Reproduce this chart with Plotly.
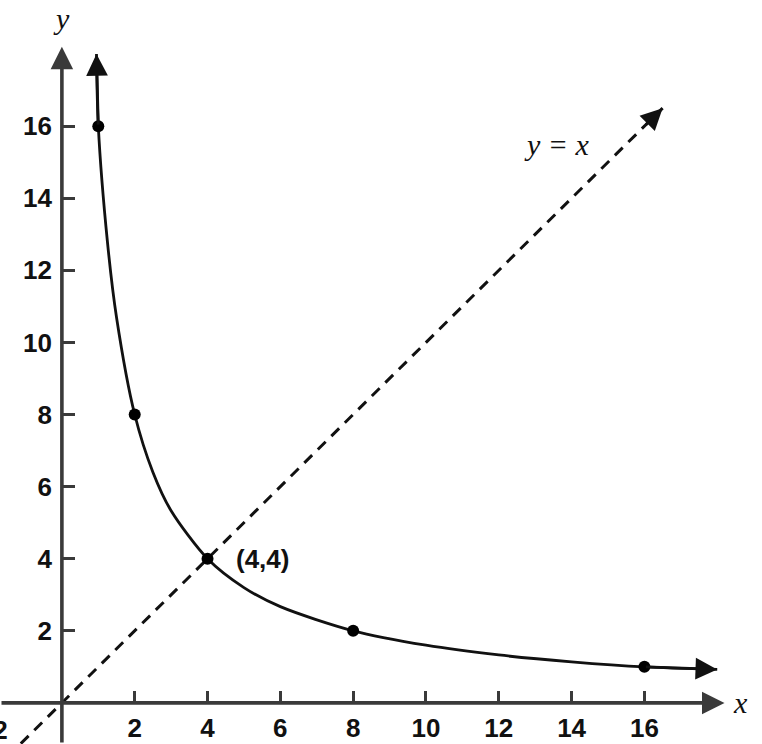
import plotly.graph_objects as go

# ---- data ----
point_x = [1, 2, 4, 8, 16]
point_y = [16, 8, 4, 2, 1]

# samples along the plotted curve y = 16/x
curve_x = [0.95, 1, 1.25, 1.5, 2, 2.5, 3, 4, 5, 6, 8, 10, 12, 14, 16, 18]
curve_y = [18.0, 16, 12.8, 10.7, 8, 6.4, 5.33, 4, 3.2, 2.67, 2, 1.6, 1.33, 1.14, 1.0, 0.93]

diag_x = [-1.5, 16.5]
diag_y = [-1.5, 16.5]

tick_vals = [2, 4, 6, 8, 10, 12, 14, 16]
tick_text = ["2", "4", "6", "8", "10", "12", "14", "16"]
neg_tick = -2

axis_end = 18.2
x_range = [-1.70, 19.23]
y_range = [-1.14, 19.5]

LABEL_FONT = dict(family="Liberation Sans, Arial, sans-serif", size=26, color="#111", weight="bold")
SERIF_IT = dict(family="Liberation Serif, Times New Roman, serif", size=30, color="#111",
                style="italic")
AX_COL = "#3a3a3a"

fig = go.Figure()

# dashed line y = x
fig.add_trace(go.Scatter(x=diag_x, y=diag_y, mode="lines",
                         line=dict(color="#111", width=3, dash="11px,8px"),
                         hoverinfo="skip", showlegend=False))
# curve
fig.add_trace(go.Scatter(x=curve_x, y=curve_y, mode="lines",
                         line=dict(color="#111", width=2.8, shape="spline", smoothing=0.8),
                         hoverinfo="skip", showlegend=False))
# points
fig.add_trace(go.Scatter(x=point_x, y=point_y, mode="markers",
                         marker=dict(color="#000", size=12),
                         hoverinfo="skip", showlegend=False))

ann = []
# axes as arrows
ann.append(dict(x=axis_end, y=0, ax=x_range[0], ay=0, xref="x", yref="y", axref="x", ayref="y",
                showarrow=True, arrowhead=2, arrowsize=1.25, arrowwidth=3.6, arrowcolor=AX_COL, text=""))
ann.append(dict(x=0, y=axis_end, ax=0, ay=y_range[0], xref="x", yref="y", axref="x", ayref="y",
                showarrow=True, arrowhead=2, arrowsize=1.25, arrowwidth=3.6, arrowcolor=AX_COL, text=""))
# curve arrowheads
ann.append(dict(x=curve_x[0], y=curve_y[0], ax=curve_x[1], ay=curve_y[1], xref="x", yref="y",
                axref="x", ayref="y", showarrow=True, arrowhead=2, arrowsize=1.55,
                arrowwidth=2.8, arrowcolor="#111", text=""))
ann.append(dict(x=curve_x[-1], y=curve_y[-1], ax=curve_x[-2], ay=curve_y[-2], xref="x", yref="y",
                axref="x", ayref="y", showarrow=True, arrowhead=2, arrowsize=1.55,
                arrowwidth=2.8, arrowcolor="#111", text=""))
# dashed line arrowhead
ann.append(dict(x=diag_x[-1], y=diag_y[-1], ax=diag_x[-1] - 0.5, ay=diag_y[-1] - 0.5, xref="x", yref="y",
                axref="x", ayref="y", showarrow=True, arrowhead=2, arrowsize=1.55,
                arrowwidth=2.8, arrowcolor="#111", text=""))

# axis names
ann.append(dict(x=axis_end, y=0, xref="x", yref="y", text="x", showarrow=False,
                xanchor="left", yanchor="middle", xshift=6, font=SERIF_IT))
ann.append(dict(x=0, y=axis_end, xref="x", yref="y", text="y", showarrow=False,
                xanchor="center", yanchor="bottom", yshift=10, font=SERIF_IT))
# labels
ann.append(dict(x=13.6, y=15.5, xref="x", yref="y", text="y = x", showarrow=False,
                xanchor="center", yanchor="middle", font=SERIF_IT))
ann.append(dict(x=point_x[2], y=point_y[2], xref="x", yref="y", text="(4,4)", showarrow=False,
                xanchor="left", yanchor="middle", xshift=26, font=LABEL_FONT))
# partially visible -2 tick label
ann.append(dict(x=(neg_tick - x_range[0]) / (x_range[1] - x_range[0]), y=0, xref="paper", yref="y",
                text="\u22122", showarrow=False, xanchor="center", yanchor="top",
                xshift=4, yshift=-10, font=LABEL_FONT))

fig.update_layout(
    width=762, height=744,
    margin=dict(l=0, r=0, t=0, b=0),
    paper_bgcolor="white", plot_bgcolor="white",
    annotations=ann,
    xaxis=dict(range=x_range, tickvals=tick_vals, ticktext=tick_text, ticks="inside",
               ticklen=12, tickwidth=2.8, tickcolor=AX_COL, showline=False, zeroline=False,
               showgrid=False, anchor="free",
               position=(0 - y_range[0]) / (y_range[1] - y_range[0]),
               tickfont=LABEL_FONT, ticklabelstandoff=7),
    yaxis=dict(range=y_range, tickvals=tick_vals, ticktext=tick_text, ticks="inside",
               ticklen=12, tickwidth=2.8, tickcolor=AX_COL, showline=False, zeroline=False,
               showgrid=False, anchor="free",
               position=(0 - x_range[0]) / (x_range[1] - x_range[0]),
               tickfont=LABEL_FONT, ticklabelstandoff=10),
)

fig.write_html("out.html", config={"displayModeBar": False},
               post_script="document.body.style.margin='0';")
